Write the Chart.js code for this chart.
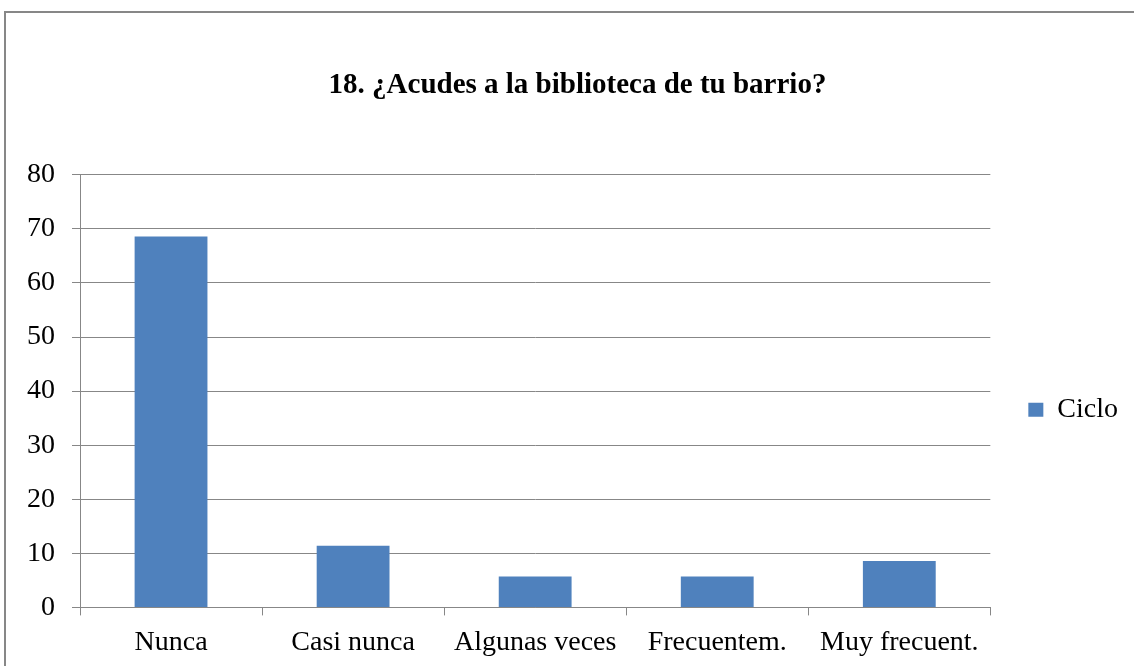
<!DOCTYPE html>
<html>
<head>
<meta charset="utf-8">
<script src="https://cdn.jsdelivr.net/npm/chart.js@4.4.1/dist/chart.umd.min.js"></script>
<style>
  html, body { margin:0; padding:0; background:#fff; }
  #wrap { position:relative; width:1134px; height:666px; overflow:hidden; }
  #frame { position:absolute; left:4px; top:11px; width:1200px; height:800px;
           border-left:2px solid #878787; border-top:2px solid #878787; }
  canvas { position:absolute; left:0; top:0; }
</style>
</head>
<body>
<div id="wrap">
  <div id="frame"></div>
  <canvas id="chart" width="1134" height="666"></canvas>
</div>
<script>
// Chart data
const categories = ['Nunca', 'Casi nunca', 'Algunas veces', 'Frecuentem.', 'Muy frecuent.'];
const cicloValues = [68.6, 11.4, 5.7, 5.7, 8.6];
const yTicks = [0, 10, 20, 30, 40, 50, 60, 70, 80];

const serif = "'Liberation Serif', 'Times New Roman', serif";
const gridColor = '#878787';

new Chart(document.getElementById('chart'), {
    type: 'bar',
    data: {
        labels: categories,
        datasets: [{
            label: 'Ciclo',
            data: cicloValues,
            backgroundColor: '#4F81BD',
            borderWidth: 0,
            barPercentage: 0.4,
            categoryPercentage: 1.0,
        }]
    },
    options: {
        responsive: false,
        animation: false,
        devicePixelRatio: 1,
        layout: { padding: { left: 27, right: 6, top: 0, bottom: -3 } },
        plugins: {
            title: {
                display: true,
                text: '18. ¿Acudes a la biblioteca de tu barrio?',
                color: '#000',
                font: { family: serif, size: 29, weight: 'bold' },
                padding: { top: 68, bottom: 72 }
            },
            legend: {
                position: 'right',
                title: { display: true, text: '', padding: { top: 136, bottom: 0 } },
                labels: {
                    color: '#000',
                    font: { family: serif, size: 28 },
                    boxWidth: 15,
                    boxHeight: 14,
                    padding: 38
                }
            },
            tooltip: { enabled: false }
        },
        scales: {
            x: {
                grid: { display: true, drawOnChartArea: false, color: gridColor, tickLength: 8, offset: true },
                border: { color: gridColor },
                ticks: { color: '#000', font: { family: serif, size: 28 }, padding: 10, maxRotation: 0 }
            },
            y: {
                min: 0,
                max: 80,
                afterBuildTicks: axis => { axis.ticks = yTicks.map(v => ({ value: v })); },
                afterFit: axis => { axis.width = 53; },
                grid: { color: gridColor, tickLength: 8 },
                border: { color: gridColor },
                ticks: { color: '#000', font: { family: serif, size: 28 }, padding: 17 }
            }
        }
    }
});
</script>
</body>
</html>
